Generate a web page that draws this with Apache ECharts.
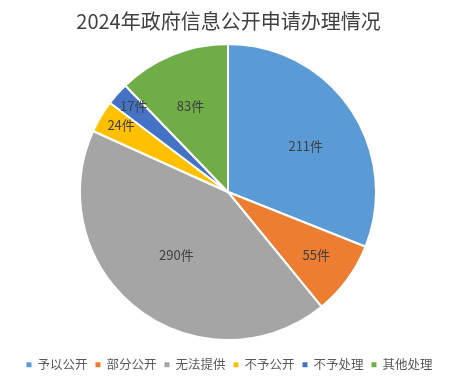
<!DOCTYPE html>
<html><head><meta charset="utf-8">
<script src="https://cdn.jsdelivr.net/npm/echarts@6/dist/echarts.min.js"></script>
<style>html,body{margin:0;padding:0;background:#fff}#c{width:457px;height:380px}</style>
</head><body><div id="c"></div>
<script>
const categories = ['予以公开','部分公开','无法提供','不予公开','不予处理','其他处理'];
const values = [211, 55, 290, 24, 17, 83];
const colors = ['#5B9BD5','#ED7D31','#A5A5A5','#FFC000','#4472C4','#70AD47'];
const labelRadial = [1.22, 1.47, 1.12, 1.69, 1.74, 1.3];
const labelNudge = [[0, 7], [-3, -4], [1, -5], [5, 0], [6, 3], [0, 7]];
const cx = 228, cy = 192;
const chart = echarts.init(document.getElementById('c'));
chart.setOption({
  animation: false,
  color: colors,
  title: {
    text: '2024年政府信息公开申请办理情况',
    left: 'center', top: 6,
    textStyle: {fontSize: 20, fontWeight: 'normal', color: '#404040', fontFamily: 'Noto Sans CJK SC'}
  },
  legend: {
    bottom: 4, left: 'center',
    icon: 'rect', itemWidth: 7, itemHeight: 7, itemGap: 6,
    textStyle: {fontSize: 12.5, color: '#595959', fontFamily: 'Noto Sans CJK SC'},
    data: categories
  },
  series: [{
    type: 'pie',
    center: [cx, cy], radius: 148,
    startAngle: 90, clockwise: true,
    itemStyle: {borderColor: '#fff', borderWidth: 2},
    label: {
      position: 'inside', formatter: '{c}件',
      fontSize: 13, color: '#404040', fontFamily: 'Noto Sans CJK SC'
    },
    labelLayout: function (p) {
      const r = p.labelRect;
      const lx = r.x + r.width / 2, ly = r.y + r.height / 2;
      const k = labelRadial[p.dataIndex];
      const n = labelNudge[p.dataIndex];
      return {x: cx + (lx - cx) * k + n[0], y: cy + (ly - cy) * k + n[1], align: 'center', verticalAlign: 'middle'};
    },
    data: categories.map((n, i) => ({name: n, value: values[i]}))
  }]
});
</script></body></html>
